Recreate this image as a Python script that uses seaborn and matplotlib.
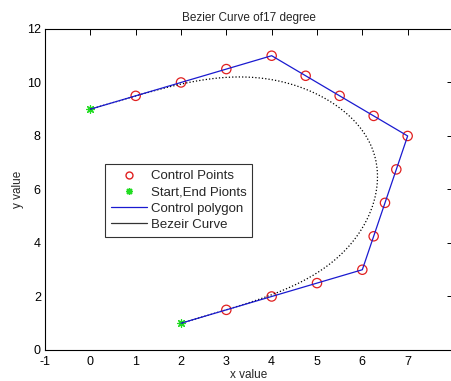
import numpy as np
import pandas as pd
import matplotlib
matplotlib.use("Agg")
import matplotlib.pyplot as plt
from matplotlib.lines import Line2D
import seaborn as sns
from math import comb

# Control points of the Bezier curve
ctrl_x = [0, 1, 2, 3, 4, 4.75, 5.5, 6.25, 7, 6.75, 6.5, 6.25, 6, 5, 4, 3, 2]
ctrl_y = [9, 9.5, 10, 10.5, 11, 10.25, 9.5, 8.75, 8, 6.75, 5.5, 4.25, 3, 2.5, 2, 1.5, 1]

x_ticks = [-1, 0, 1, 2, 3, 4, 5, 6, 7]
y_ticks = [0, 2, 4, 6, 8, 10, 12]

title = "Bezier Curve of17 degree"
legend_labels = ["Control Points", "Start,End Pionts", "Control polygon", "Bezeir Curve"]

sns.set_theme(style="white")
plt.rcParams["font.family"] = ["Liberation Sans", "DejaVu Sans"]
plt.rcParams["axes.unicode_minus"] = False

ctrl = pd.DataFrame({"x": ctrl_x, "y": ctrl_y, "order": range(len(ctrl_x))})

# Bernstein evaluation of the curve defined by the control points
n = len(ctrl_x) - 1
t = np.linspace(0, 1, 400)
bern = np.array([comb(n, k) * t**k * (1 - t)**(n - k) for k in range(n + 1)])
curve = pd.DataFrame({"x": bern.T @ np.array(ctrl_x), "y": bern.T @ np.array(ctrl_y)})
ends = ctrl.iloc[[0, -1]]

fig = plt.figure(figsize=(4.51, 3.81), dpi=100)
ax = fig.add_axes([0.0998, 0.0814, 0.9046, 0.8426])

sns.lineplot(data=curve, x="x", y="y", sort=False, ax=ax, color="black",
             linestyle=":", linewidth=0.9, estimator=None)
sns.lineplot(data=ctrl, x="x", y="y", sort=False, ax=ax, color="#1a1ad0",
             linewidth=0.9, estimator=None)
sns.scatterplot(data=ctrl.iloc[1:-1], x="x", y="y", ax=ax, marker="o",
                facecolor="none", edgecolor="#e02020", linewidth=0.9, s=45)
sns.scatterplot(data=ends, x="x", y="y", ax=ax, marker=(8, 2, 0),
                color="#22dd22", edgecolor="#22dd22", linewidth=0.9, s=30)

ax.set_xlim(-1, 8)
ax.set_ylim(0, 12)
ax.set_xticks(x_ticks)
ax.set_yticks(y_ticks)
ax.tick_params(direction="in", length=4, width=0.7, labelsize=9, pad=3,
               top=True, right=True, colors="black")
ax.tick_params(axis="x", pad=4)
for sp in ax.spines.values():
    sp.set_visible(True)
    sp.set_color("black")
    sp.set_linewidth(0.8)

ax.set_title(title, fontsize=8.5, pad=6)
ax.set_xlabel("x value", fontsize=8.5, labelpad=1)
ax.set_ylabel("y value", fontsize=8.5, labelpad=2)

handles = [
    Line2D([], [], linestyle="none", marker="o", markerfacecolor="none",
           markeredgecolor="#e02020", markersize=5),
    Line2D([], [], linestyle="none", marker=(8, 2, 0), color="#22dd22",
           markersize=5),
    Line2D([], [], color="#1a1ad0", linewidth=0.9),
    Line2D([], [], color="#333333", linewidth=0.9),
]
leg = ax.legend(handles, legend_labels, loc="lower left",
                bbox_to_anchor=(0.147, 0.352), fontsize=9.5, frameon=True,
                fancybox=False, edgecolor="black", handlelength=2.7,
                handletextpad=0.3, borderpad=0.45, labelspacing=0.3,
                borderaxespad=0)
leg.get_frame().set_linewidth(0.8)

fig.savefig("out.png", dpi=100)
